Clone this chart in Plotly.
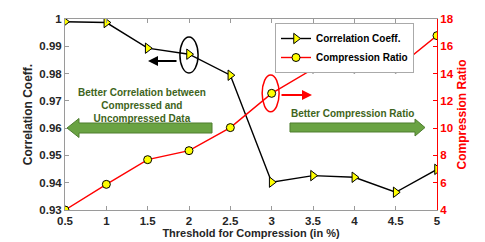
import plotly.graph_objects as go

threshold = [0.5, 1, 1.5, 2, 2.5, 3, 3.5, 4, 4.5, 5]
corr_coeff = [0.9990, 0.9987, 0.9893, 0.9871, 0.9794, 0.9402, 0.9426, 0.9420, 0.9365, 0.9449]
comp_ratio = [4.0, 5.88, 7.69, 8.35, 10.04, 12.55, 14.34, 14.34, 14.34, 16.78]

x_ticks = [0.5, 1, 1.5, 2, 2.5, 3, 3.5, 4, 4.5, 5]
x_tick_labels = ["0.5", "1", "1.5", "2", "2.5", "3", "3.5", "4", "4.5", "5"]
y1_ticks = [0.93, 0.94, 0.95, 0.96, 0.97, 0.98, 0.99, 1.0]
y1_tick_labels = ["0.93", "0.94", "0.95", "0.96", "0.97", "0.98", "0.99", "1"]
y2_ticks = [4, 6, 8, 10, 12, 14, 16, 18]

# page body keeps an 8px default margin, so the figure is drawn 8px in
OFF = 8
W, H = 485 - OFF, 242 - OFF
ML, MR, MT, MB = 65 - OFF, 48, 19 - OFF, 32
PW, PH = W - ML - MR, H - MT - MB

FONT = "Arial, 'Liberation Sans', sans-serif"
GREEN_FILL = "#6aa343"
GREEN_EDGE = "#4e7d2f"
GREEN_TEXT = "#3e6420"
AXIS_GRAY = "#9a9a9a"


def px(xs):
    return (xs - OFF - ML) / PW


def py(ys):
    return (OFF + H - MB - ys) / PH


def block_arrow(points):
    d = "M " + " L ".join(f"{px(a):.4f},{py(b):.4f}" for a, b in points) + " Z"
    return dict(type="path", xref="paper", yref="paper", path=d,
                fillcolor=GREEN_FILL, line=dict(color=GREEN_EDGE, width=1), layer="above")


fig = go.Figure()

fig.add_trace(go.Scatter(
    x=threshold, y=corr_coeff, name="<b>Correlation Coeff.</b>",
    mode="lines+markers",
    line=dict(color="black", width=1.4),
    marker=dict(symbol="triangle-right", size=9, color="#ffff00",
                line=dict(color="black", width=1)),
    yaxis="y",
))
fig.add_trace(go.Scatter(
    x=threshold, y=comp_ratio, name="<b>Compression Ratio</b>",
    mode="lines+markers",
    line=dict(color="#ff0000", width=1.4),
    marker=dict(symbol="circle", size=8, color="#ffff00",
                line=dict(color="black", width=1)),
    yaxis="y2",
))

shapes = [
    dict(type="circle", xref="x", yref="y", x0=1.89, x1=2.11, y0=0.9802, y1=0.9934,
         line=dict(color="black", width=1.5)),
    dict(type="circle", xref="x", yref="y2", x0=2.885, x1=3.09, y0=11.2, y1=13.9,
         line=dict(color="#ff0000", width=1.5)),
    block_arrow([(67, 128), (79, 118.5), (79, 123), (212, 123), (212, 133), (79, 133), (79, 137.5)]),
    block_arrow([(425, 127.5), (415, 119), (415, 123), (290, 123), (290, 132), (415, 132), (415, 136)]),
]

annotations = [
    dict(x=1.504, y=0.9846, xref="x", yref="y", ax=30, ay=0,
         showarrow=True, arrowhead=2, arrowsize=1, arrowwidth=2, arrowcolor="black", text=""),
    dict(x=3.488, y=12.43, xref="x", yref="y2", ax=-32, ay=0,
         showarrow=True, arrowhead=2, arrowsize=1, arrowwidth=2, arrowcolor="#ff0000", text=""),
    dict(x=px(142), y=py(105), xref="paper", yref="paper", showarrow=False,
         xanchor="center", yanchor="middle",
         text="<b>Better Correlation between<br>Compressed and<br>Uncompressed Data</b>",
         font=dict(family=FONT, size=10, color=GREEN_TEXT), align="center"),
    dict(x=px(352), y=py(113), xref="paper", yref="paper", showarrow=False,
         xanchor="center", yanchor="middle",
         text="<b>Better Compression Ratio</b>",
         font=dict(family=FONT, size=10, color=GREEN_TEXT), align="center"),
]

fig.update_layout(
    width=W, height=H,
    margin=dict(l=ML, r=MR, t=MT, b=MB, pad=0, autoexpand=False),
    paper_bgcolor="white", plot_bgcolor="white",
    font=dict(family=FONT, size=11, color="#262626"),
    shapes=shapes,
    annotations=annotations,
    showlegend=True,
    legend=dict(x=px(414), y=py(23), xanchor="right", yanchor="top",
                bgcolor="white", bordercolor="#aaaaaa", borderwidth=1,
                font=dict(family=FONT, size=10, color="black"),
                itemwidth=30, tracegroupgap=0),
    xaxis=dict(
        range=[0.5, 5], tickvals=x_ticks, ticktext=x_tick_labels,
        showgrid=False, zeroline=False, automargin=False,
        showline=True, linecolor=AXIS_GRAY, linewidth=1, mirror="ticks",
        ticks="inside", ticklen=4, tickcolor=AXIS_GRAY,
        tickfont=dict(family=FONT, size=11.5, color="#262626", weight="bold"),
        title=dict(text="<b>Threshold for Compression (in %)</b>", standoff=2,
                   font=dict(family=FONT, size=11, color="#262626")),
    ),
    yaxis=dict(
        range=[0.93, 1.0], tickvals=y1_ticks, ticktext=y1_tick_labels,
        showgrid=False, zeroline=False, automargin=False,
        showline=True, linecolor=AXIS_GRAY, linewidth=1,
        ticks="inside", ticklen=4, tickcolor=AXIS_GRAY,
        tickfont=dict(family=FONT, size=11.5, color="#262626", weight="bold"),
        title=dict(text="<b>Correlation Coeff.</b>", standoff=4,
                   font=dict(family=FONT, size=12, color="#262626")),
    ),
    yaxis2=dict(
        range=[4, 18], tickvals=y2_ticks, overlaying="y", side="right",
        showgrid=False, zeroline=False, automargin=False,
        showline=True, linecolor="#ff0000", linewidth=1,
        ticks="inside", ticklen=4, tickcolor="#ff0000",
        tickfont=dict(family=FONT, size=11.5, color="#ff0000", weight="bold"),
        title=dict(text="<b>Compression Ratio</b>", standoff=4,
                   font=dict(family=FONT, size=12, color="#ff0000")),
    ),
)

fig.write_html("out.html")
